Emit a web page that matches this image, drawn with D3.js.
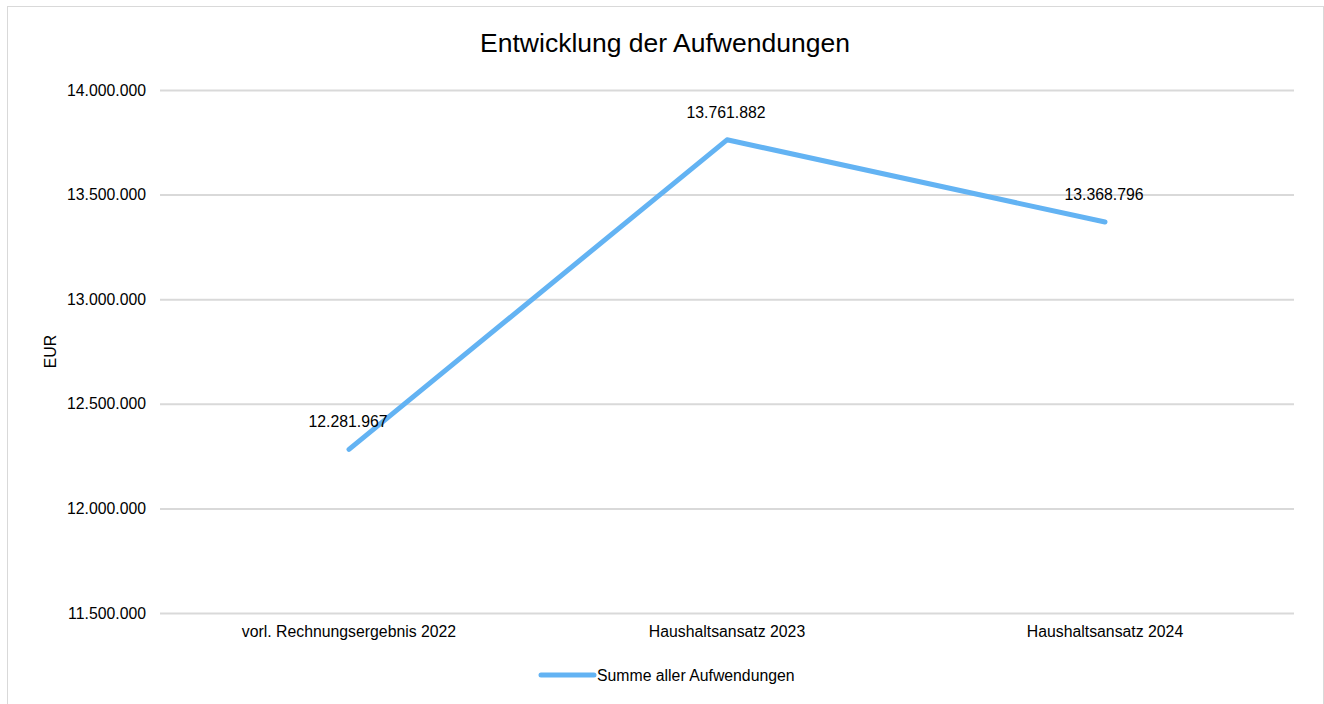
<!DOCTYPE html>
<html>
<head>
<meta charset="utf-8">
<script src="https://cdn.jsdelivr.net/npm/d3@7"></script>
<style>
  body { margin: 0; background: #fff; }
  svg { font-family: "Liberation Sans", Arial, sans-serif; }
</style>
</head>
<body>
<div id="chart"></div>
<script>
const categories = ['vorl. Rechnungsergebnis 2022', 'Haushaltsansatz 2023', 'Haushaltsansatz 2024'];
const values = [12281967, 13761882, 13368796];
const yTicks = [11500000, 12000000, 12500000, 13000000, 13500000, 14000000];
const seriesName = 'Summe aller Aufwendungen';
const title = 'Entwicklung der Aufwendungen';
const yLabel = 'EUR';

const W = 1324, H = 704;
const margin = { top: 90, right: 30, bottom: 91, left: 160 };
const color = '#63b3f3';
const fs = 15.8;

const svg = d3.select('#chart').append('svg')
  .attr('width', W).attr('height', H);

// chart frame
svg.append('rect')
  .attr('x', 7.5).attr('y', 6.5)
  .attr('width', 1316).attr('height', 720)
  .attr('fill', '#fff').attr('stroke', '#d9d9d9');

const x = d3.scaleBand()
  .domain(categories)
  .range([margin.left, W - margin.right]);

const y = d3.scaleLinear()
  .domain([11500000, 14000000])
  .range([H - margin.bottom, margin.top]);

const fmt = v => d3.format(',')(v).replace(/,/g, '.');

// gridlines + y labels
const yAxis = svg.append('g')
  .attr('transform', `translate(${margin.left},0)`)
  .call(d3.axisLeft(y).tickValues(yTicks).tickSize(-(W - margin.left - margin.right)).tickPadding(14).tickFormat(fmt));
yAxis.select('.domain').remove();
yAxis.selectAll('line').attr('stroke', '#d9d9d9').attr('stroke-width', 2);
yAxis.selectAll('text').attr('font-size', fs).attr('fill', '#000').attr('font-family', 'Liberation Sans, Arial, sans-serif');

// x labels
const xAxis = svg.append('g')
  .attr('transform', `translate(0,${H - margin.bottom})`)
  .call(d3.axisBottom(x).tickSize(0).tickPadding(13));
xAxis.select('.domain').remove();
xAxis.selectAll('text').attr('font-size', fs).attr('fill', '#000').attr('font-family', 'Liberation Sans, Arial, sans-serif');

// y axis title
svg.append('text')
  .attr('transform', `translate(56,${(H - margin.bottom + margin.top) / 2}) rotate(-90)`)
  .attr('text-anchor', 'middle')
  .attr('font-size', fs)
  .text(yLabel);

// title
svg.append('text')
  .attr('x', 665).attr('y', 52)
  .attr('text-anchor', 'middle')
  .attr('font-size', 26.5)
  .text(title);

const cx = d => x(d) + x.bandwidth() / 2;

// line
const line = d3.line()
  .x((d, i) => cx(categories[i]))
  .y(d => y(d));

svg.append('path')
  .datum(values)
  .attr('d', line)
  .attr('fill', 'none')
  .attr('stroke', color)
  .attr('stroke-width', 5)
  .attr('stroke-linecap', 'round')
  .attr('stroke-linejoin', 'round');

// data labels
svg.append('g').selectAll('text')
  .data(values)
  .enter().append('text')
  .attr('x', (d, i) => cx(categories[i]) - 1)
  .attr('y', d => y(d) - 22)
  .attr('text-anchor', 'middle')
  .attr('font-size', fs)
  .text(d => fmt(d));

// legend
const lg = svg.append('g').attr('transform', 'translate(541,675)');
lg.append('line')
  .attr('x1', 0).attr('x2', 53)
  .attr('stroke', color).attr('stroke-width', 5)
  .attr('stroke-linecap', 'round');
lg.append('text')
  .attr('x', 56).attr('y', 5.5)
  .attr('font-size', fs)
  .text(seriesName);
</script>
</body>
</html>
